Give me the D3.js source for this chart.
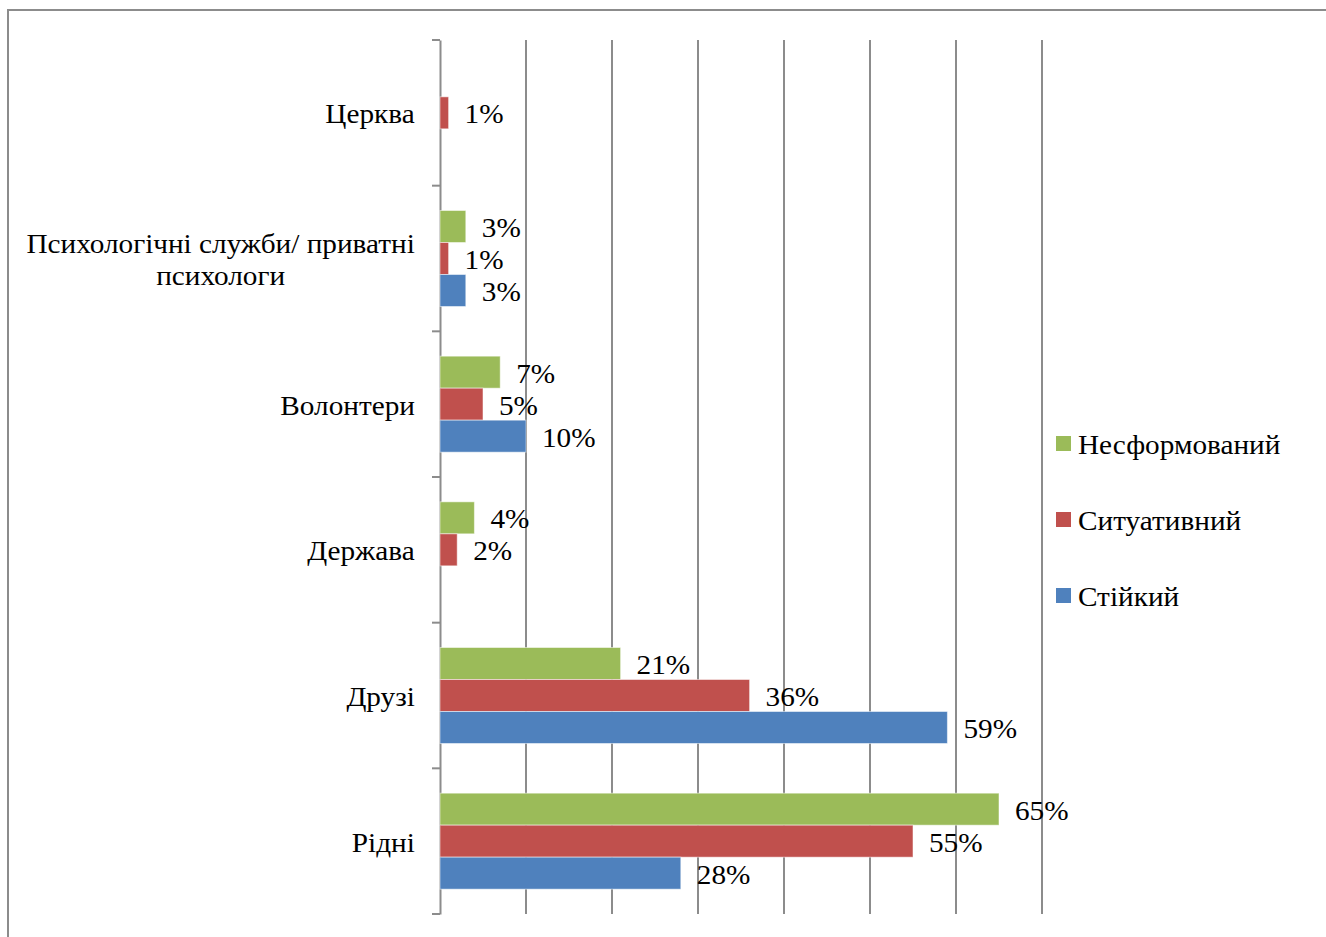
<!DOCTYPE html>
<html>
<head>
<meta charset="utf-8">
<script src="https://cdn.jsdelivr.net/npm/d3@7"></script>
<style>
html,body{margin:0;padding:0;background:#fff;}
svg{display:block;}
text{font-family:"Liberation Serif","Times New Roman",serif;fill:#000;}
</style>
</head>
<body>
<svg id="chart" width="1326" height="937"></svg>
<script>
// Categories, top to bottom
const categories = ["Церква", "Психологічні служби/ приватні психологи", "Волонтери", "Держава", "Друзі", "Рідні"];
const categoryLines = [["Церква"], ["Психологічні служби/ приватні", "психологи"], ["Волонтери"], ["Держава"], ["Друзі"], ["Рідні"]];
// Series (order within each group, top to bottom)
const seriesNames = ["Несформований", "Ситуативний", "Стійкий"];
const seriesColors = ["#9BBB59", "#C0504D", "#4F81BD"];
const nesformovanyi = [null, 3, 7, 4, 21, 65];
const sytuatyvnyi   = [1, 1, 5, 2, 36, 55];
const stiikyi       = [null, 3, 10, null, 59, 28];
const seriesValues = [nesformovanyi, sytuatyvnyi, stiikyi];
const xTicks = [0, 10, 20, 30, 40, 50, 60, 70];

const FS = 28;
const SX = 1.045; // slight horizontal stretch of the reference's text
const svg = d3.select("#chart");
const grid = "#8c8c8c";

function stretchedText(parent, ax, ay, str) {
  const g = parent.append("g").attr("transform", `translate(${ax},${ay}) scale(${SX},1)`);
  return g.append("text").attr("x", 0).attr("y", 0).attr("dy", "0.38em")
    .attr("font-size", FS).text(str);
}

// outer frame (extends beyond the window on right and bottom)
svg.append("path").attr("d", "M8,940 L8,10 L1330,10")
  .attr("fill", "none").attr("stroke", grid).attr("stroke-width", 2);

const x = d3.scaleLinear().domain([0, 70]).range([440, 1042]);
const y = d3.scaleBand().domain(categories).range([40, 914]);
const inner = d3.scaleBand().domain(seriesNames).range([0, 96]);
const groupOffset = (y.bandwidth() - 96) / 2;

// gridlines
svg.append("g").selectAll("line").data(xTicks.slice(1)).join("line")
  .attr("x1", d => x(d)).attr("x2", d => x(d))
  .attr("y1", 40).attr("y2", 914)
  .attr("stroke", grid).attr("stroke-width", 2);

// category axis
const yAxis = d3.axisLeft(y).tickSize(0).tickFormat("");
const ag = svg.append("g").attr("transform", "translate(440,0)").call(yAxis);
ag.select(".domain").attr("stroke", grid).attr("stroke-width", 2);
const boundaries = categories.map(c => y(c)).concat([914]);
svg.append("g").selectAll("line").data(boundaries).join("line")
  .attr("x1", 432).attr("x2", 440)
  .attr("y1", d => d).attr("y2", d => d)
  .attr("stroke", grid).attr("stroke-width", 2);

// category labels (centred lines, block right-aligned at x=415)
const lab = svg.append("g");
categories.forEach((c, i) => {
  const lines = categoryLines[i];
  const cy = y(c) + y.bandwidth() / 2;
  const lh = 32;
  const g = lab.append("g");
  const t = g.append("text").attr("font-size", FS).attr("text-anchor", "middle");
  lines.forEach((ln, j) => {
    t.append("tspan").attr("x", 0)
      .attr("y", (j - (lines.length - 1) / 2) * lh)
      .attr("dy", "0.38em").text(ln);
  });
  const w = t.node().getBBox().width * SX;
  g.attr("transform", `translate(${415 - w / 2},${cy}) scale(${SX},1)`);
});

// bars
const bars = svg.append("g");
const labels = svg.append("g");
seriesNames.forEach((s, si) => {
  const data = categories.map((c, i) => ({c, v: seriesValues[si][i]})).filter(d => d.v != null);
  bars.selectAll(null).data(data).join("rect")
    .attr("x", x(0))
    .attr("y", d => y(d.c) + groupOffset + inner(s))
    .attr("width", d => x(d.v) - x(0))
    .attr("height", inner.bandwidth())
    .attr("fill", seriesColors[si])
    .attr("stroke", "#ffffff").attr("stroke-opacity", 0.5).attr("stroke-width", 1);
  data.forEach(d => {
    stretchedText(labels, x(d.v) + 16, y(d.c) + groupOffset + inner(s) + inner.bandwidth() / 2, d.v + "%");
  });
});

// legend
const leg = svg.append("g");
seriesNames.forEach((s, i) => {
  const cy = 443 + i * 76;
  leg.append("rect").attr("x", 1056).attr("y", cy - 7).attr("width", 15).attr("height", 15)
    .attr("fill", seriesColors[i]);
  stretchedText(leg, 1078, cy, s);
});
</script>
</body>
</html>
